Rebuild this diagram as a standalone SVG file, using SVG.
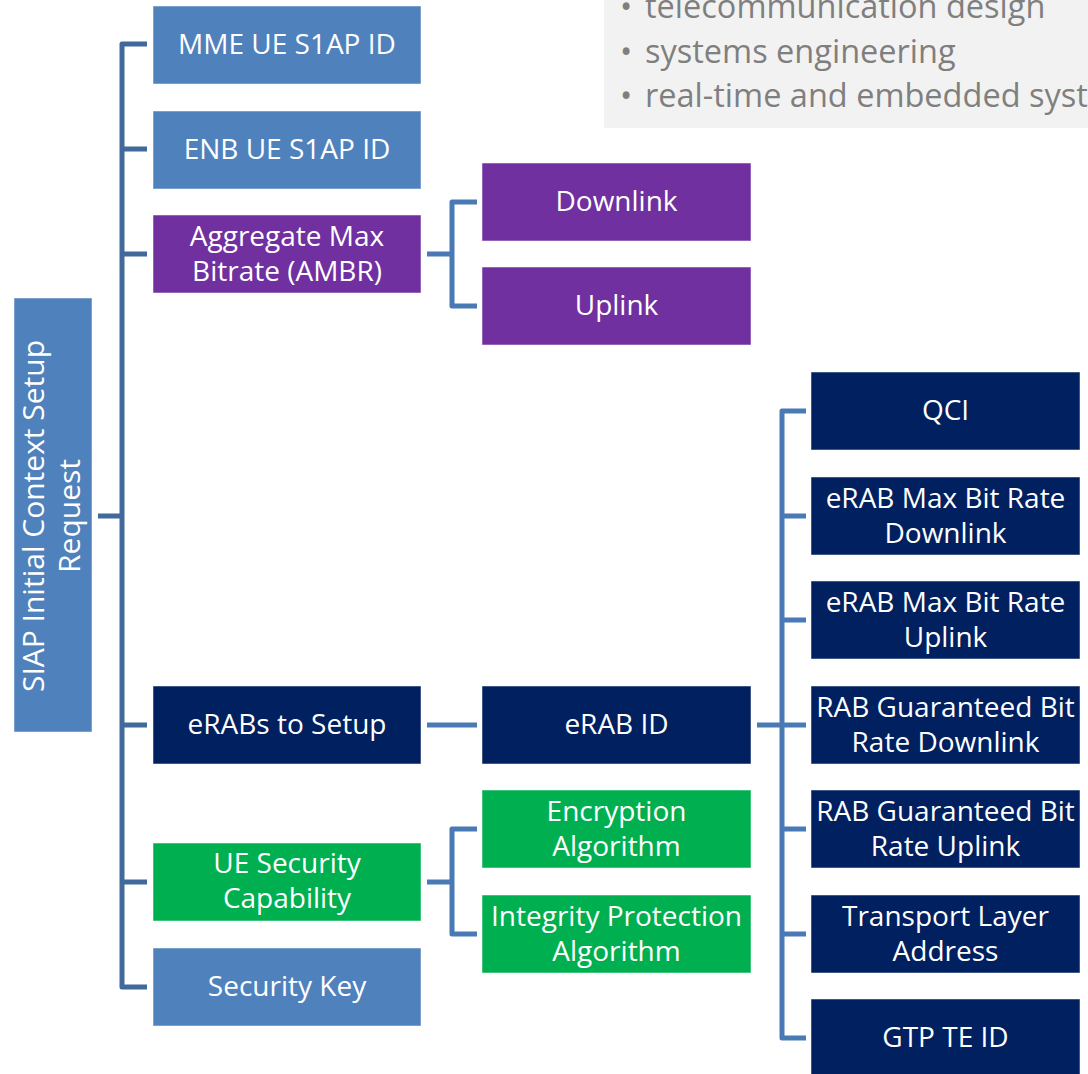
<svg xmlns="http://www.w3.org/2000/svg" width="1088" height="1074" viewBox="0 0 1088 1074">
<style>
.box{stroke:#ffffff;stroke-opacity:0.5;stroke-width:1}
.lb{fill:#4f81bd}.pu{fill:#7030a0}.nv{fill:#002060}.gr{fill:#00b050}
.t{font-family:"Open Sans","Liberation Sans",sans-serif;font-size:28px;fill:#ffffff;text-anchor:middle}
.c1{fill:none;stroke:#41699c;stroke-width:5;stroke-linejoin:round}
.c2{fill:none;stroke:#4a7ab5;stroke-width:5;stroke-linejoin:round}
.g{font-family:"Open Sans","Liberation Sans",sans-serif;font-size:32.5px;fill:#7f7f7f}
</style>
<rect width="1088" height="1074" fill="#ffffff"/>
<g id="notes">
<rect x="604" y="-10" width="494" height="138" fill="#f2f2f2"/>
<text class="g" x="620" y="18">•</text><text class="g" x="645" y="18">telecommunication design</text>
<text class="g" x="620" y="63">•</text><text class="g" x="645" y="63">systems engineering</text>
<text class="g" x="620" y="107">•</text><text class="g" x="645" y="107">real-time and embedded systems</text>
</g>
<g id="connectors">
<path class="c1" d="M98 516H122M147 44H122V987H147M122 149H147M122 254H147M122 725H147M122 882H147"/>
<path class="c2" d="M427 254H452M477 202H452V306H477"/>
<path class="c2" d="M427 725H477"/>
<path class="c2" d="M757 725H782M806 411H782V1038H806M782 516H806M782 620H806M782 725H806M782 829H806M782 934H806"/>
<path class="c2" d="M427 882H452M477 829H452V934H477"/>
</g>
<g id="root">
<rect class="box lb" x="14" y="298" width="78" height="434"/>
<g transform="translate(53,516) rotate(-90)">
<text class="t" x="0" y="-9" style="font-size:30px">SIAP Initial Context Setup</text>
<text class="t" x="0" y="27" style="font-size:30px">Request</text>
</g>
</g>
<g id="mme"><rect class="box lb" x="153" y="6" width="268" height="78"/><text class="t" x="287" y="54">MME UE S1AP ID</text></g>
<g id="enb"><rect class="box lb" x="153" y="111" width="268" height="78"/><text class="t" x="287" y="159">ENB UE S1AP ID</text></g>
<g id="ambr"><rect class="box pu" x="153" y="215" width="268" height="78"/><text class="t" x="287" y="246">Aggregate Max</text><text class="t" x="287" y="281">Bitrate (AMBR)</text></g>
<g id="erabs"><rect class="box nv" x="153" y="686" width="268" height="78"/><text class="t" x="287" y="734">eRABs to Setup</text></g>
<g id="uesec"><rect class="box gr" x="153" y="843" width="268" height="78"/><text class="t" x="287" y="873">UE Security</text><text class="t" x="287" y="908">Capability</text></g>
<g id="seckey"><rect class="box lb" x="153" y="948" width="268" height="78"/><text class="t" x="287" y="996">Security Key</text></g>
<g id="downlink"><rect class="box pu" x="482" y="163" width="269" height="78"/><text class="t" x="616.5" y="211">Downlink</text></g>
<g id="uplink"><rect class="box pu" x="482" y="267" width="269" height="78"/><text class="t" x="616.5" y="315">Uplink</text></g>
<g id="erabid"><rect class="box nv" x="482" y="686" width="269" height="78"/><text class="t" x="616.5" y="734">eRAB ID</text></g>
<g id="enc"><rect class="box gr" x="482" y="790" width="269" height="78"/><text class="t" x="616.5" y="821">Encryption</text><text class="t" x="616.5" y="856">Algorithm</text></g>
<g id="integ"><rect class="box gr" x="482" y="895" width="269" height="78"/><text class="t" x="616.5" y="926">Integrity Protection</text><text class="t" x="616.5" y="961">Algorithm</text></g>
<g id="qci"><rect class="box nv" x="811" y="372" width="269" height="78"/><text class="t" x="945.5" y="420">QCI</text></g>
<g id="mbrdl"><rect class="box nv" x="811" y="477" width="269" height="78"/><text class="t" x="945.5" y="508">eRAB Max Bit Rate</text><text class="t" x="945.5" y="543">Downlink</text></g>
<g id="mbrul"><rect class="box nv" x="811" y="581" width="269" height="78"/><text class="t" x="945.5" y="612">eRAB Max Bit Rate</text><text class="t" x="945.5" y="647">Uplink</text></g>
<g id="gbrdl"><rect class="box nv" x="811" y="686" width="269" height="78"/><text class="t" x="945.5" y="717">RAB Guaranteed Bit</text><text class="t" x="945.5" y="752">Rate Downlink</text></g>
<g id="gbrul"><rect class="box nv" x="811" y="790" width="269" height="78"/><text class="t" x="945.5" y="821">RAB Guaranteed Bit</text><text class="t" x="945.5" y="856">Rate Uplink</text></g>
<g id="tla"><rect class="box nv" x="811" y="895" width="269" height="78"/><text class="t" x="945.5" y="926">Transport Layer</text><text class="t" x="945.5" y="961">Address</text></g>
<g id="gtp"><rect class="box nv" x="811" y="999" width="269" height="78"/><text class="t" x="945.5" y="1047">GTP TE ID</text></g>
</svg>
